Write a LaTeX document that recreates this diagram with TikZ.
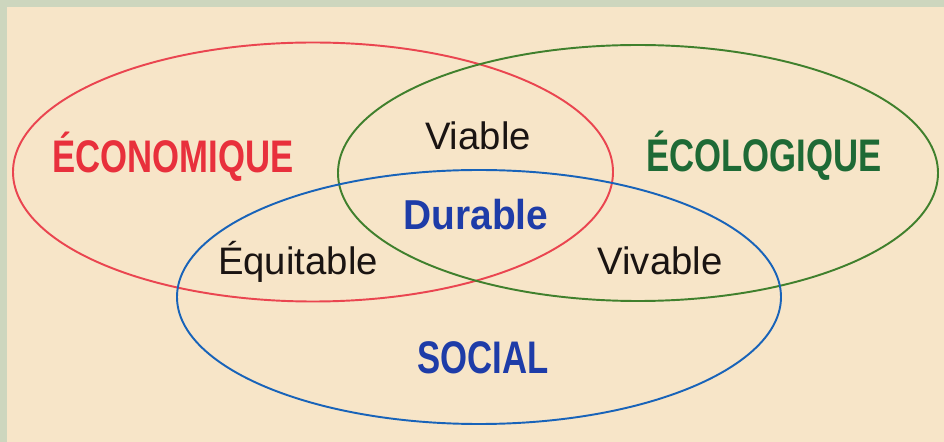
\documentclass[tikz,border=0pt]{standalone}
\usepackage{fontspec}
\setmainfont{Liberation Sans}
\newfontfamily\condfont{Liberation Sans}[FakeStretch=0.76]
\newfontfamily\semifont{Liberation Sans}[FakeStretch=0.93]
\usepackage{xcolor}
\usepackage{tikz}
\definecolor{paper}{HTML}{F7E5C8}
\definecolor{frame}{HTML}{CDD6BE}
\definecolor{ecored}{HTML}{E8303C}
\definecolor{ecogreen}{HTML}{1E6A35}
\definecolor{socblue}{HTML}{1E3CA8}
\definecolor{inkblack}{HTML}{1A1412}

\begin{document}
\begin{tikzpicture}[x=0.02cm, y=-0.02cm,
		pole/.style={inner sep=0pt, font=\condfont\bfseries\fontsize{26}{28}\selectfont},
		quality/.style={inner sep=0pt, text=inkblack, font=\fontsize{21.8}{24}\selectfont},
		loop/.style={line width=1.1pt}]
		\fill [frame] (0,0) rectangle (944,442);
		\fill [paper] (7,7) rectangle (944,442);
		\useasboundingbox (0,0) rectangle (944,442);
		
		\draw [loop, ecored!90] (313,172) ellipse [x radius=300, y radius=129.5];
		\draw [loop, ecogreen!85!yellow] (638,173) ellipse [x radius=300, y radius=128];
		\draw [loop, socblue!80!cyan] (479,297) ellipse [x radius=302, y radius=127];
		
		\node[pole, text=ecored] (economique) at (173,157) {ÉCONOMIQUE};
		\node[pole, text=ecogreen] (ecologique) at (764,156) {ÉCOLOGIQUE};
		\node[pole, text=socblue] (social) at (483,358) {SOCIAL};
		\node[quality, anchor=base] (viable) at (478,150) {Viable};
		\node[quality, anchor=base] (equitable) at (298,275) {Équitable};
		\node[quality, anchor=base] (vivable) at (660,275) {Vivable};
		\node[inner sep=0pt, text=socblue, font=\semifont\bfseries\fontsize{23.8}{26}\selectfont, anchor=base] (durable) at (476,230) {Durable};
	\end{tikzpicture}
\end{document}
